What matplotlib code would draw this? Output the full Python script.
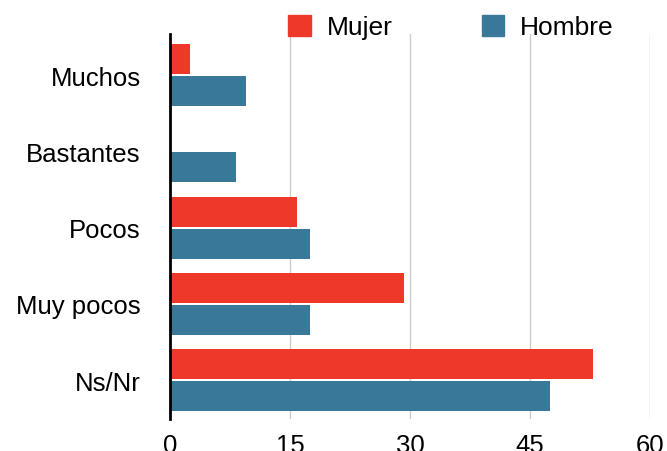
import matplotlib
matplotlib.use("Agg")
import matplotlib.pyplot as plt
import numpy as np
from matplotlib.patches import Patch

categories = ["Muchos", "Bastantes", "Pocos", "Muy pocos", "Ns/Nr"]
mujer = [2.5, 0, 15.9, 29.3, 52.9]
hombre = [9.5, 8.2, 17.5, 17.5, 47.5]
series_names = ["Mujer", "Hombre"]
xticks = [0, 15, 30, 45, 60]

red = "#EE3829"
blue = "#3A789A"

plt.rcParams['font.family'] = ['Liberation Sans', 'DejaVu Sans']

fig = plt.figure(figsize=(6.67, 4.52), dpi=100)
ax = fig.add_axes([170/667, 1-420/452, 480/667, 385/452])

y = np.arange(len(categories))
h = 0.393
off = 0.21
ax.barh(y - off, mujer, height=h, color=red, zorder=3)
ax.barh(y + off, hombre, height=h, color=blue, zorder=3)

ax.set_xlim(0, 60)
ax.set_ylim(4.51, -0.54)
ax.set_yticks(y)
ax.set_yticklabels(categories, fontsize=18.5)
ax.set_xticks(xticks)
ax.set_xticklabels([str(v) for v in xticks], fontsize=18.5)
ax.tick_params(axis='y', length=0, pad=21)
ax.tick_params(axis='x', length=0, pad=10)
ax.grid(axis='x', color='#cccccc', linewidth=1, zorder=0)
for s in ['top', 'right', 'bottom']:
    ax.spines[s].set_visible(False)
ax.spines['left'].set_linewidth(2)
ax.spines['left'].set_color('black')
ax.spines['left'].set_zorder(4)

handles = [Patch(color=red), Patch(color=blue)]
fig.legend(handles, series_names, loc='center', bbox_to_anchor=(451/667, 1-28/452),
           ncol=2, frameon=False, fontsize=19, handlelength=0.85, handleheight=0.85,
           handletextpad=0.6, columnspacing=3.4, borderaxespad=0)

fig.savefig("out.png", dpi=100)
